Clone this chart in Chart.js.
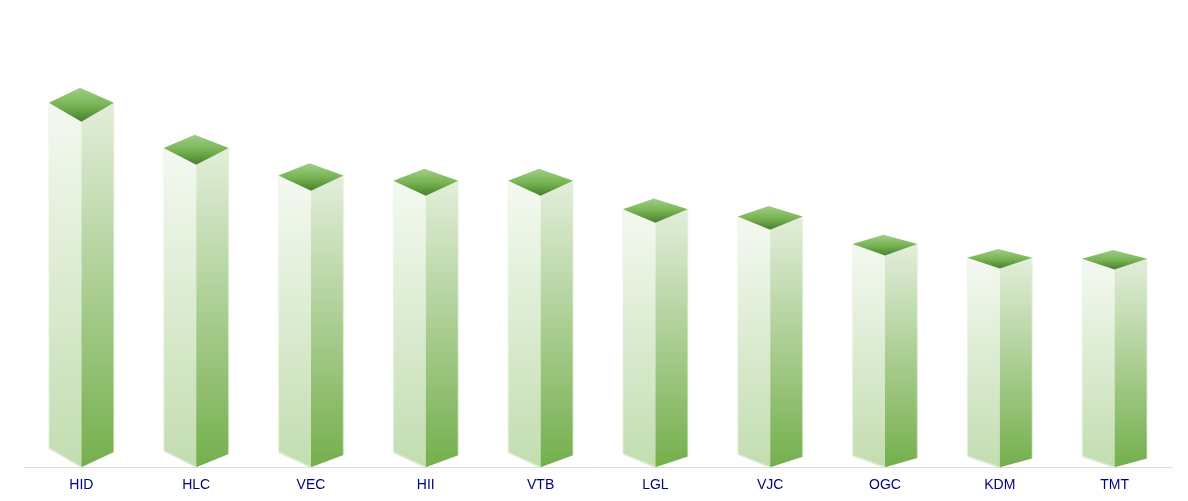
<!DOCTYPE html>
<html lang="en">
<head>
  <meta charset="UTF-8">
  <title>Stock chart</title>
  <style>
    html, body { margin: 0; padding: 0; background: #fff; }
    #chartContainer { width: 1188px; height: 501px; }
  </style>
</head>
<body>
  <div id="chartContainer">
    <canvas id="stockChart"></canvas>
  </div>

  <script src="https://cdn.jsdelivr.net/npm/chart.js@4"></script>
  <script>
    const tickers = ['HID', 'HLC', 'VEC', 'HII', 'VTB', 'LGL', 'VJC', 'OGC', 'KDM', 'TMT'];
    const values = [346, 303, 277, 272, 272, 245, 238, 212, 199, 198];

    function vGradient(ctx, y0, y1, stops) {
      const g = ctx.createLinearGradient(0, y0, 0, y1);
      stops.forEach((c, i) => g.addColorStop(i / (stops.length - 1), c));
      return g;
    }

    function fillPoly(ctx, pts, fill) {
      ctx.beginPath();
      pts.forEach((p, i) => i ? ctx.lineTo(p[0], p[1]) : ctx.moveTo(p[0], p[1]));
      ctx.closePath();
      ctx.fillStyle = fill;
      ctx.fill();
    }

    function strokeLine(ctx, a, b, color) {
      ctx.beginPath();
      ctx.moveTo(a[0], a[1]);
      ctx.lineTo(b[0], b[1]);
      ctx.strokeStyle = color;
      ctx.lineWidth = 1.5;
      ctx.stroke();
    }

    // Turns each bar element into a box with two side faces and a lid
    const boxPlugin = {
      id: 'boxPlugin',
      afterDatasetsDraw(chart) {
        const ctx = chart.ctx;
        ctx.save();
        chart.getDatasetMeta(0).data.forEach(bar => {
          const half = bar.width / 2;
          const left = bar.x - half;
          const right = bar.x + half;
          const top = bar.y;
          const base = bar.base;
          const dy = (base - top) * 0.055;
          const rightBase = base - dy * 0.8;

          fillPoly(ctx, [[left, top - dy], [bar.x, top], [bar.x, base], [left, base - dy]],
            vGradient(ctx, top - dy, base, ['#f4f9f1', '#c2ddb0']));
          fillPoly(ctx, [[right, top - dy], [bar.x, top], [bar.x, base], [right, rightBase]],
            vGradient(ctx, top - dy, base, ['#e3eedb', '#74af4c']));
          strokeLine(ctx, [left, base - dy], [bar.x, base], '#dcecd2');
          strokeLine(ctx, [left, top - dy], [left, base - dy], 'rgba(235,245,228,0.5)');
          strokeLine(ctx, [right, top - dy], [right, rightBase], 'rgba(235,245,228,0.5)');
          fillPoly(ctx, [[left, top - dy], [bar.x - 1.5, top - 1.8 * dy], [right, top - dy], [bar.x, top]],
            vGradient(ctx, top - 1.8 * dy, top, ['#a2cd88', '#79b554', '#48802b']));
        });
        ctx.restore();
      }
    };

    new Chart(document.getElementById('stockChart'), {
      type: 'bar',
      data: {
        labels: tickers,
        datasets: [{
          data: values,
          backgroundColor: 'rgba(0,0,0,0)',
          barThickness: 65
        }]
      },
      options: {
        responsive: true,
        maintainAspectRatio: false,
        animation: false,
        layout: { padding: { left: 24, right: 16, top: 21, bottom: -3 } },
        plugins: { legend: { display: false }, tooltip: { enabled: false } },
        scales: {
          x: {
            grid: { display: false, drawTicks: false },
            border: { color: '#dddddd' },
            ticks: {
              color: '#000080',
              padding: 10,
              maxRotation: 0,
              font: { family: 'Liberation Sans', size: 14 }
            }
          },
          y: { display: false, min: 0, max: 447 }
        }
      },
      plugins: [boxPlugin]
    });
  </script>
</body>
</html>
